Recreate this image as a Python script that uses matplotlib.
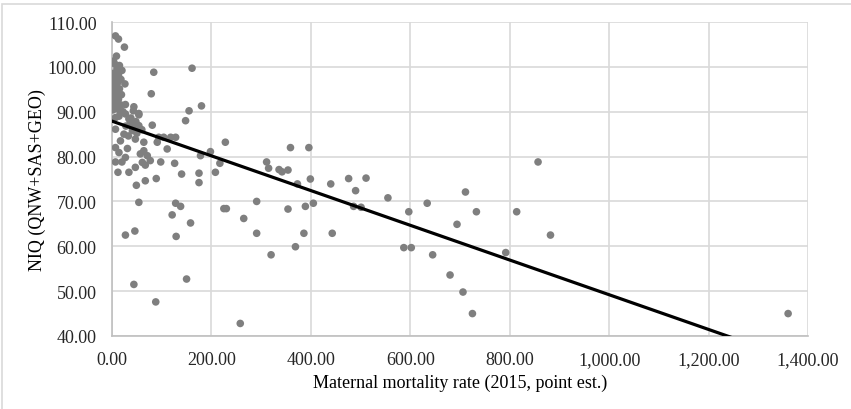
import matplotlib.pyplot as plt
from matplotlib.patches import Rectangle
from matplotlib.ticker import StrMethodFormatter
import numpy as np

plt.rcParams['font.family'] = ['Liberation Serif', 'DejaVu Serif']

# Data
mmr = [
    7, 13, 25, 9, 3, 5, 15, 10, 20, 4, 13, 7, 18, 3, 26, 11, 6, 15, 3, 10,
    19, 5, 13, 2, 8, 18, 27, 5, 12, 2, 22, 17, 27, 7, 14,
    44, 43, 54, 54, 34, 38, 48,
    81, 148, 155, 54, 7, 41, 24, 47, 17, 64, 94, 104, 118, 128, 91, 7, 31, 111,
    14, 64, 57, 71, 178, 27, 7, 20, 61, 77, 98, 126, 67, 47, 12, 34, 140, 175,
    89, 67, 175, 49,
    37, 45, 28, 60, 33, 50,
    84, 161, 79, 180,
    54, 128, 138, 121, 158, 27, 46, 129, 150, 44, 88,
    228, 198, 217, 208, 359, 396, 311, 315, 336, 342, 354, 373, 399, 440,
    476, 511, 490, 555, 291, 354, 389, 405, 486, 501, 597, 634, 711, 733, 814,
    857, 291, 386, 443, 369, 587, 602, 645, 694, 792, 882, 320, 680, 706, 725,
    1360, 258, 265, 225, 230,
]
niq = [
    106.9, 106.2, 104.4, 102.4, 101.3, 100.7, 100.3, 99.6, 99.2, 98.6, 98.1, 97.6, 97.2, 96.8, 96.2, 96.4, 95.6, 95.1, 94.6, 94.2,
    93.8, 93.3, 92.8, 92.3, 91.9, 91.5, 91.6, 91.0, 90.6, 90.4, 90.0, 89.9, 89.5, 88.7, 89.0,
    91.1, 90.2, 89.6, 89.3, 88.4, 88.6, 87.8,
    87.0, 88.0, 90.2, 86.9, 86.1, 85.8, 85.0, 83.9, 83.5, 83.2, 84.3, 84.3, 84.3, 84.3, 83.2, 82.0, 81.8, 81.7,
    80.9, 81.3, 80.6, 80.2, 80.2, 79.8, 78.8, 78.8, 78.7, 79.1, 78.8, 78.5, 78.1, 77.6, 76.5, 76.5, 76.1, 76.3,
    75.1, 74.6, 74.2, 73.6,
    87.5, 87.0, 86.8, 86.0, 84.6, 85.2,
    98.8, 99.7, 94.0, 91.3,
    69.8, 69.6, 68.9, 67.0, 65.2, 62.5, 63.4, 62.2, 52.7, 51.5, 47.6,
    83.2, 81.1, 78.5, 76.5, 82.0, 82.0, 78.8, 77.4, 77.1, 76.6, 77.0, 73.9, 75.0, 73.9,
    75.1, 75.2, 72.4, 70.8, 70.0, 68.3, 68.9, 69.6, 68.9, 68.7, 67.7, 69.6, 72.1, 67.7, 67.7,
    78.8, 62.9, 62.9, 62.9, 59.9, 59.7, 59.7, 58.1, 64.9, 58.6, 62.5, 58.1, 53.6, 49.8, 45.0,
    45.0, 42.8, 66.2, 68.4, 68.4,
]

# linear trendline as shown (intercept, slope)
trend_intercept = 87.9
trend_slope = -0.0387

fig = plt.figure(figsize=(8.51, 4.10), dpi=100)
ax = fig.add_axes([112 / 851, 1 - 337 / 410, 696 / 851, 314 / 410])

ax.scatter(mmr, niq, s=30, color='#7f7f7f', edgecolors='none', zorder=3)

tx = np.array([0, max(mmr)])
ax.plot(tx, trend_intercept + trend_slope * tx, color='black', lw=2.3, zorder=4)

ax.set_xlim(0, 1400)
ax.set_ylim(40, 110)
ax.set_xticks(range(0, 1401, 200))
ax.set_yticks(range(40, 111, 10))
ax.xaxis.set_major_formatter(StrMethodFormatter('{x:,.2f}'))
ax.yaxis.set_major_formatter(StrMethodFormatter('{x:,.2f}'))
ax.tick_params(length=0, labelsize=13, pad=11, colors='#262626')
ax.grid(True, color='#d9d9d9', lw=1.2)
ax.set_axisbelow(True)
for side in ['top', 'right']:
    ax.spines[side].set_visible(False)
for side in ['left', 'bottom']:
    ax.spines[side].set_color('#bfbfbf')
    ax.spines[side].set_linewidth(1.2)

ax.set_xlabel('Maternal mortality rate (2015, point est.)', fontsize=13, labelpad=4)
ax.set_ylabel('NIQ (QNW+SAS+GEO)', fontsize=13, labelpad=1)

# chart frame
fig.patches.append(Rectangle((2 / 851, -0.1), 1.2, 1 - 5 / 410 + 0.1, transform=fig.transFigure,
                             fill=False, edgecolor='#d9d9d9', lw=1.2))

fig.savefig('out.png', dpi=100)
